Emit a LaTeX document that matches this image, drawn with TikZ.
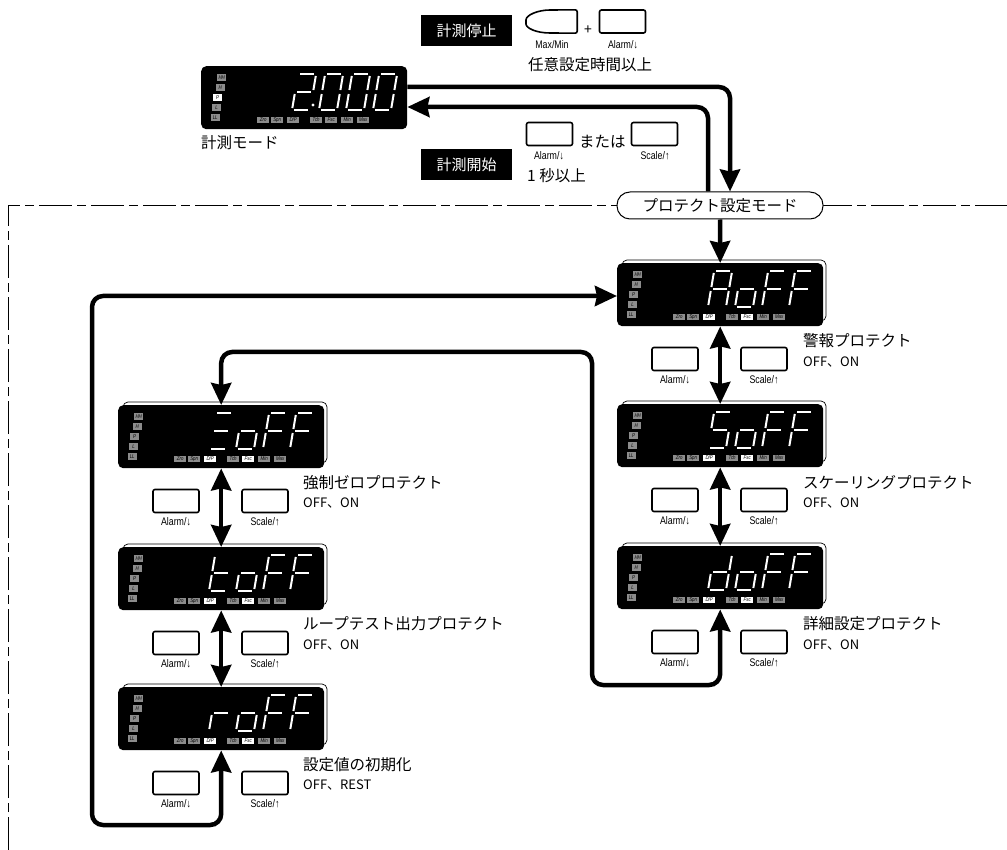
\documentclass[tikz,border=0pt]{standalone}
\usepackage{fontspec}
\setmainfont{Noto Sans CJK JP}
\newfontfamily\keyfont[FakeStretch=0.8]{Liberation Sans}
\usetikzlibrary{arrows.meta}
\definecolor{lampGrey}{HTML}{8C8C8C}

% segments of one digit, bottom left at (0,0)
\def\sga{\draw[dseg] (2,-36) -- (16,-36);}
\def\sgb{\draw[dseg] (18,-34) -- (18,-20);}
\def\sgc{\draw[dseg] (18,-16) -- (18,-2);}
\def\sgd{\draw[dseg] (2,0) -- (16,0);}
\def\sge{\draw[dseg] (0,-16) -- (0,-2);}
\def\sgf{\draw[dseg] (0,-34) -- (0,-20);}
\def\sgg{\draw[dseg] (2,-18) -- (16,-18);}
\def\dgA{a,b,c,e,f,g}
\def\dgo{c,d,e,g}
\def\dgF{a,e,f,g}
\def\dgS{a,c,d,f,g}
\def\dgd{b,c,d,e,g}
\def\dgt{d,e,f,g}
\def\dgr{e,g}
\def\dgZ{a,d,g}
\def\dgtwo{a,b,d,e,g}
\def\dgzero{a,b,c,d,e,f}

\newcommand{\segdigit}[2]{%
  \edef\seglist{\csname dg#2\endcsname}%
  \begin{scope}[shift={(91+27*#1,44)},xslant=0.17]
    \foreach \s in \seglist {\csname sg\s\endcsname}
  \end{scope}}

% name, x, y, digits, lit lamps
\newcommand{\dispbox}[5]{%
  \begin{scope}[shift={(#2,#3)},#5]
    \node[panel,anchor=north west] (#1) at (0,0) {};
    \foreach \ky/\tx/\lx/\ly in {HH/HH/16/8,H/H/14.5/18,P/P/12/28,L/L/11/38,LL/LL/9.5/48}
      \node[lamp,lamp \ky/.try] (#1-\ky) at (\lx,\ly) {\tx};
    \foreach \ky/\tx/\lx in {Zro/Zro/56,Spn/Spn/70,Dp/{D/P}/86,Tch/Tch/109,Fsc/Fsc/124,Min/Min/140,Max/Max/156}
      \node[lamp,minimum width=12pt,lamp \ky/.try] (#1-\ky) at (\lx,50.5) {\tx};
    \foreach \dg [count=\n from 0] in {#4} {\segdigit{\n}{\dg}}
  \end{scope}}
\newcommand{\dispback}[2]{\draw[panelback] (#1+5,#2-3) rectangle (#1+209,#2+58);}

% name, centre x, display top y
\newcommand{\keypair}[3]{%
  \node[keybtn] (#1-al) at (#2-45,#3+96) {};
  \node[keybtn] (#1-sc) at (#2+44,#3+96) {};
  \node[keylab] (#1-all) at (#2-45,#3+117) {Alarm/↓};
  \node[keylab] (#1-scl) at (#2+44,#3+117) {Scale/↑};}

\begin{document}
\begin{tikzpicture}[
  x=1pt,y=-1pt,
  panel/.style={fill=black,rounded corners=5pt,inner sep=0pt,minimum width=206pt,minimum height=63pt},
  panelback/.style={draw=black,line width=0.7pt,fill=white,rounded corners=5pt},
  dseg/.style={draw=white,line width=2pt},
  lamp/.style={fill=lampGrey,text=black,anchor=north west,inner sep=0pt,minimum width=9pt,minimum height=6.5pt,
               font=\keyfont\itshape\fontsize{5.5}{6}\selectfont},
  litlamp/.style={fill=white},
  flow/.style={draw=black,line width=4.5pt,rounded corners=11pt,
               >={Stealth[length=22pt,width=20pt,inset=2pt]}},
  keybtn/.style={draw=black,fill=white,line width=1.6pt,rounded corners=2pt,inner sep=0pt,
                 minimum width=46pt,minimum height=23pt},
  keylab/.style={inner sep=0pt,font=\keyfont\fontsize{11}{12}\selectfont},
  tag/.style={fill=black,text=white,inner sep=0pt,minimum width=91pt,minimum height=31pt,
              font=\fontsize{15}{18}\selectfont},
  ttl/.style={anchor=west,inner sep=0pt,font=\fontsize{15.5}{18}\selectfont},
  sub/.style={anchor=west,inner sep=0pt,font=\fontsize{13}{15}\selectfont},
  frame/.style={draw=black,line width=0.7pt,dash pattern=on 33pt off 5pt on 9pt off 5pt},
]
\useasboundingbox (0,0) rectangle (1007,850);

% ---- frame and mode pill ----
\coordinate (fa) at (8,850);
\coordinate (fb) at (8,205);
\coordinate (fc) at (1007,205);
\draw[frame] (fa) -- (fb) -- (fc);
\node[draw=black,fill=white,line width=1pt,rounded corners=13pt,inner sep=0pt,minimum width=206pt,minimum height=27pt,
      font=\fontsize{15.5}{18}\selectfont] (mode) at (720,205.5) {プロテクト設定モード};

% ---- displays ----
\dispbox{meas}{201}{66}{two,zero,zero,zero}{lamp P/.style=litlamp}
\fill[white] (meas.north west)+(112,39) circle (1.6pt);
\dispback{617}{263}
\dispbox{aoff}{617}{263}{A,o,F,F}{lamp Dp/.style=litlamp,lamp Fsc/.style=litlamp}
\dispback{617}{404}
\dispbox{soff}{617}{404}{S,o,F,F}{lamp Dp/.style=litlamp,lamp Fsc/.style=litlamp}
\dispback{617}{546}
\dispbox{doff}{617}{546}{d,o,F,F}{lamp Dp/.style=litlamp,lamp Fsc/.style=litlamp}
\dispback{118}{405}
\dispbox{zoff}{118}{405}{Z,o,F,F}{lamp Dp/.style=litlamp,lamp Fsc/.style=litlamp}
\dispback{118}{547}
\dispbox{toff}{118}{547}{t,o,F,F}{lamp Dp/.style=litlamp,lamp Fsc/.style=litlamp}
\dispback{118}{687}
\dispbox{roff}{118}{687}{r,o,F,F}{lamp Dp/.style=litlamp,lamp Fsc/.style=litlamp}

% ---- keys under the displays ----
\keypair{ka}{720}{263}
\keypair{ks}{720}{404}
\keypair{kd}{720}{546}
\keypair{kz}{221}{405}
\keypair{kt}{221}{547}
\keypair{kr}{221}{687}

% ---- top row: stop and start ----
\node[tag] (stop) at (466.5,30.5) {計測停止};
\node[tag] (start) at (466.5,164.5) {計測開始};
\node[minimum width=51pt,minimum height=23pt,inner sep=0pt] (mm) at (551.5,21.5) {};
\draw[draw=black,line width=1.6pt,rounded corners=2pt] (mm.north east) -- (mm.south east) -- (552,33)
  .. controls (536,33) and (526,28) .. (526,22) .. controls (526,15) and (538,10) .. (552,10) -- cycle;
\node[inner sep=0pt,font=\fontsize{14}{16}\selectfont] (plus) at (588,30) {+};
\node[keybtn] (topal) at (622.5,21.5) {};
\node[keylab] (mml) at (552,45) {Max/Min};
\node[keylab] (topall) at (623,45) {Alarm/↓};
\node[ttl] (anytime) at (528,65) {任意設定時間以上};

\node[keybtn] (stal) at (549.5,134) {};
\node[ttl] (or) at (579,142) {または};
\node[keybtn] (stsc) at (654.5,134) {};
\node[keylab] (stall) at (549,156) {Alarm/↓};
\node[keylab] (stscl) at (655,156) {Scale/↑};
\node[ttl] (onesec) at (527,176) {1 秒以上};
\node[ttl] (meastxt) at (201,143) {計測モード};

% ---- captions ----
\node[ttl] (capa) at (803,341) {警報プロテクト};
\node[sub] (capa2) at (803,362) {OFF、ON};
\node[ttl] (caps) at (803,483) {スケーリングプロテクト};
\node[sub] (caps2) at (803,503) {OFF、ON};
\node[ttl] (capd) at (803,624) {詳細設定プロテクト};
\node[sub] (capd2) at (803,645) {OFF、ON};
\node[ttl] (capz) at (303,483) {強制ゼロプロテクト};
\node[sub] (capz2) at (303,503) {OFF、ON};
\node[ttl] (capt) at (303,624) {ループテスト出力プロテクト};
\node[sub] (capt2) at (303,645) {OFF、ON};
\node[ttl] (capr) at (303,765) {設定値の初期化};
\node[sub] (capr2) at (303,785) {OFF、REST};

% ---- connectors ----
\coordinate (mout) at (730,87);
\coordinate (mret) at (708,107);
\coordinate (ra) at (592,685);
\coordinate (rb) at (592,352);
\coordinate (la) at (92,825);
\coordinate (lb) at (92,296);
\draw[flow,->] (meas.east |- mout) -| (mode.north -| mout);
\draw[flow,->] (mode.north -| mret) |- (meas.east |- mret);
\draw[flow,->] (mode.south) -- (aoff.north);
\draw[flow,<->] (aoff.south) -- (soff.north);
\draw[flow,<->] (soff.south) -- (doff.north);
\draw[flow,<->] (doff.south) |- (ra) -- (rb) -| (zoff.north);
\draw[flow,<->] (zoff.south) -- (toff.north);
\draw[flow,<->] (toff.south) -- (roff.north);
\draw[flow,<->] (roff.south) |- (la) -- (lb) -- (aoff.west |- lb);

\end{tikzpicture}
\end{document}
